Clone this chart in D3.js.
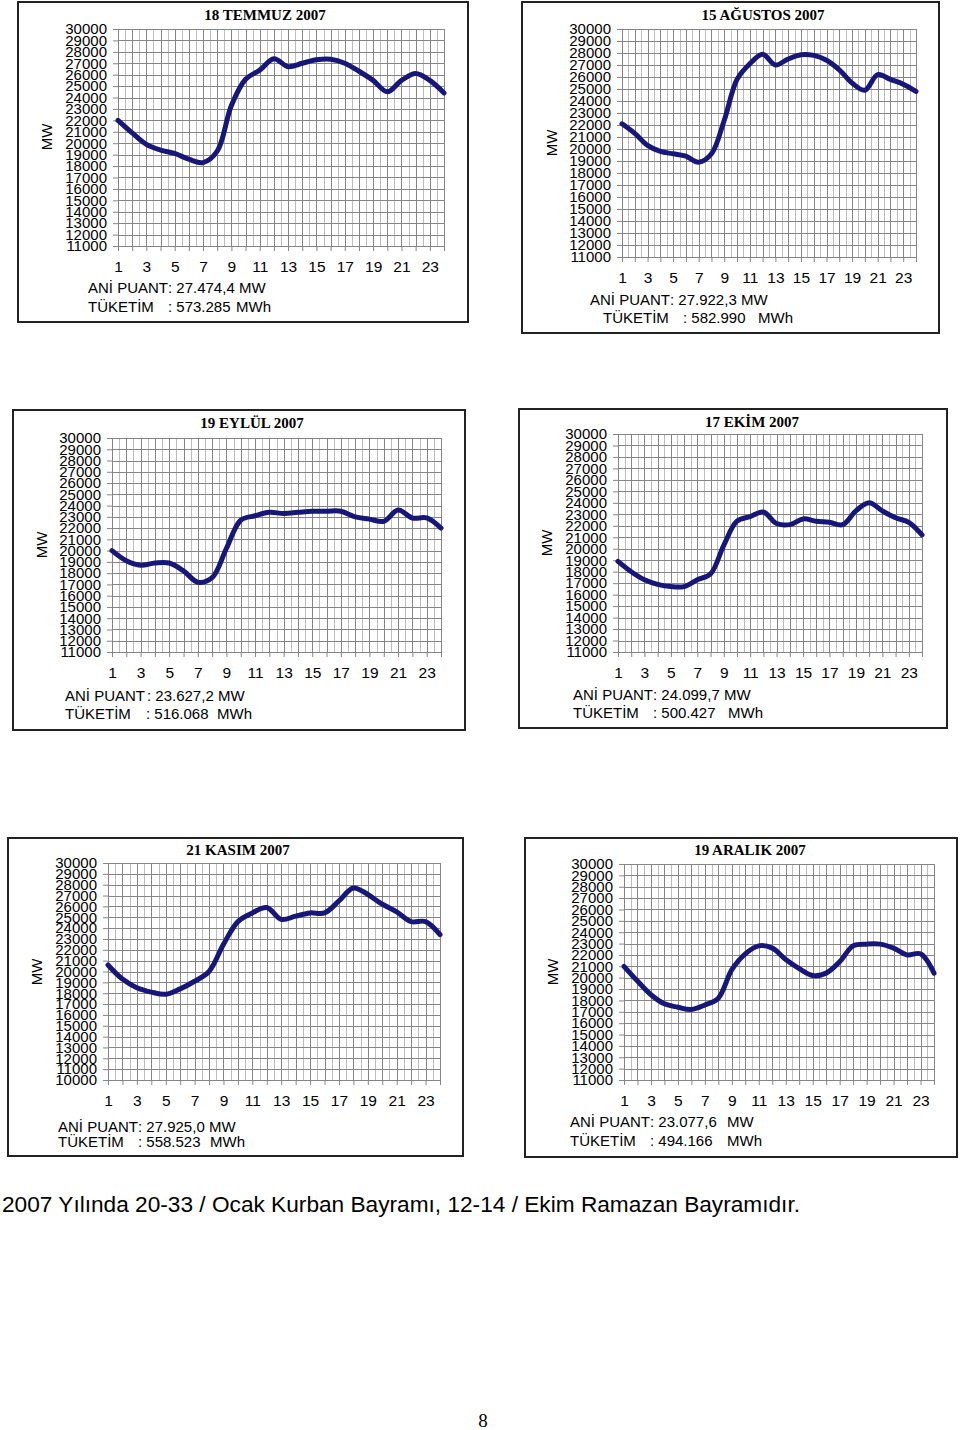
<!DOCTYPE html>
<html>
<head>
<meta charset="utf-8">
<script src="https://cdn.jsdelivr.net/npm/d3@7/dist/d3.min.js"></script>
<style>
  html, body { margin: 0; padding: 0; background: #fff; }
  svg { display: block; }
  text { font-family: "Liberation Sans", Arial, sans-serif; fill: #000; }
</style>
</head>
<body>
<svg id="page" width="960" height="1430"></svg>
<script>
// ---------- DATA ----------
const hours = [1,2,3,4,5,6,7,8,9,10,11,12,13,14,15,16,17,18,19,20,21,22,23,24];
const hourLabels = [1,3,5,7,9,11,13,15,17,19,21,23];

const titles = ["18 TEMMUZ 2007", "15 AĞUSTOS 2007", "19 EYLÜL 2007", "17 EKİM 2007", "21 KASIM 2007", "19 ARALIK 2007"];
const peakValues = ["27.474,4 MW", "27.922,3 MW", "23.627,2 MW", "24.099,7 MW", "27.925,0 MW", "23.077,6"];
const consumptionValues = ["573.285", "582.990", "516.068", "500.427", "558.523", "494.166"];
const yMins = [11000, 11000, 11000, 11000, 10000, 11000];
const yMax = 30000;

const temmuzLoad  = [22000,20900,19900,19400,19100,18600,18300,19300,23300,25600,26400,27400,26700,27000,27300,27350,27000,26300,25500,24500,25500,26100,25500,24400];
const agustosLoad = [22100,21300,20300,19800,19600,19400,18900,19600,22400,25800,27100,27900,27000,27500,27850,27800,27400,26600,25500,24900,26200,25800,25400,24800];
const eylulLoad   = [20000,19100,18700,18900,18900,18200,17200,17600,20200,22700,23100,23400,23300,23400,23500,23500,23500,23000,22800,22600,23600,22900,22900,22000];
const ekimLoad    = [18900,18000,17300,16900,16700,16700,17300,17800,20300,22400,22800,23200,22200,22100,22600,22400,22300,22100,23300,24000,23300,22700,22300,21200];
const kasimLoad   = [20600,19300,18500,18100,17900,18400,19100,20000,22500,24600,25400,25900,24800,25100,25400,25400,26500,27700,27100,26200,25500,24600,24600,23400];
const aralikLoad  = [21000,19700,18500,17700,17400,17200,17600,18200,20700,22100,22800,22600,21600,20800,20200,20400,21400,22800,22950,22950,22600,22000,22100,20400];

const loads = [temmuzLoad, agustosLoad, eylulLoad, ekimLoad, kasimLoad, aralikLoad];

const footnote = "2007 Yılında 20-33 / Ocak Kurban Bayramı, 12-14 / Ekim Ramazan Bayramıdır.";
const pageNumber = "8";

// ---------- LAYOUT ----------
const layouts = [
  {box:[18,2,468,322],   plot:[118,29,444,246],  title:[265,20],  mw:[47,137],  l1:293,  l2:312,  ani:88,  aniC:168, tuk:88,  tukC:168, unit:236},
  {box:[522,2,939,333],  plot:[622,29,916,257],  title:[763,20],  mw:[552,143], l1:305,  l2:323,  ani:590, aniC:670, tuk:603, tukC:683, unit:758},
  {box:[13,410,465,730], plot:[112,438,441,652], title:[252,428], mw:[42,545],  l1:701,  l2:719,  ani:65,  aniC:147, tuk:65,  tukC:146, unit:217},
  {box:[519,409,947,728],plot:[618,434,922,652], title:[752,427], mw:[547,543], l1:700,  l2:718,  ani:573, aniC:653, tuk:573, tukC:653, unit:728},
  {box:[8,838,463,1156], plot:[108,863,440,1080],title:[238,855], mw:[37,972],  l1:1132, l2:1147, ani:58,  aniC:138, tuk:58,  tukC:138, unit:210},
  {box:[525,838,957,1157],plot:[624,864,934,1080],title:[750,855],mw:[553,972], l1:1127, l2:1146, ani:570, aniC:650, tuk:570, tukC:650, unit:727, aniUnit:"MW"}
];

const svg = d3.select("#page");

layouts.forEach((L, i) => {
  const g = svg.append("g");
  const [bx0, by0, bx1, by1] = L.box;
  g.append("rect").attr("x", bx0).attr("y", by0).attr("width", bx1 - bx0).attr("height", by1 - by0)
    .attr("fill", "#fff").attr("stroke", "#222").attr("stroke-width", 2);

  const [pl, pt, pr, pb] = L.plot;
  const x = d3.scaleLinear().domain([1, 24]).range([pl, pr]);
  const y = d3.scaleLinear().domain([yMins[i], yMax]).range([pb, pt]);
  const yTicks = d3.range(yMins[i], yMax + 1, 1000);
  const halfSteps = d3.range(1, 24.001, 0.5);

  // vertical grid (hours + half hours)
  g.append("g").selectAll("line").data(halfSteps).join("line")
    .attr("x1", d => Math.round(x(d)) + 0.5).attr("x2", d => Math.round(x(d)) + 0.5)
    .attr("y1", pt).attr("y2", pb)
    .attr("stroke", d => Number.isInteger(d) ? "#858585" : "#bdbdbd").attr("stroke-width", 1);
  // horizontal grid
  g.append("g").selectAll("line").data(yTicks).join("line")
    .attr("x1", pl).attr("x2", pr)
    .attr("y1", d => Math.round(y(d)) + 0.5).attr("y2", d => Math.round(y(d)) + 0.5)
    .attr("stroke", "#858585").attr("stroke-width", 1);

  // axes
  const yAxis = g.append("g").attr("transform", `translate(${pl},0)`)
    .call(d3.axisLeft(y).tickValues(yTicks).tickSize(5).tickSizeOuter(0).tickPadding(6).tickFormat(d3.format("d")));
  yAxis.select(".domain").attr("stroke", "#858585");
  yAxis.selectAll(".tick line").attr("stroke", "#858585");
  yAxis.selectAll("text").style("font-size", "15px").style("font-family", "'Liberation Sans', Arial, sans-serif");

  const xAxis = g.append("g").attr("transform", `translate(0,${pb})`)
    .call(d3.axisBottom(x).tickValues(hours).tickSize(5).tickSizeOuter(0).tickPadding(10)
      .tickFormat(d => hourLabels.includes(d) ? d : ""));
  xAxis.select(".domain").attr("stroke", "#858585");
  xAxis.selectAll(".tick line").attr("stroke", "#858585");
  xAxis.selectAll("text").style("font-size", "15.5px").style("font-family", "'Liberation Sans', Arial, sans-serif");

  // line
  const line = d3.line().x((d, j) => x(hours[j])).y(d => y(d)).curve(d3.curveCatmullRom.alpha(0.5));
  g.append("path").datum(loads[i]).attr("d", line)
    .attr("fill", "none").attr("stroke", "#17177a").attr("stroke-width", 5)
    .attr("stroke-linejoin", "round").attr("stroke-linecap", "round");

  // title
  g.append("text").attr("x", L.title[0]).attr("y", L.title[1]).attr("text-anchor", "middle")
    .style("font-family", "'Liberation Serif', 'Times New Roman', serif").style("font-weight", "bold")
    .style("font-size", "15px").text(titles[i]);

  // MW label
  g.append("text").attr("transform", `translate(${L.mw[0] + 5},${L.mw[1]}) rotate(-90)`)
    .attr("text-anchor", "middle").style("font-size", "15px").text("MW");

  // info lines
  const t1 = g.append("text").attr("y", L.l1).style("font-size", "15px");
  t1.append("tspan").attr("x", L.ani).text("ANİ PUANT");
  t1.append("tspan").attr("x", L.aniC).text(": " + peakValues[i]);
  if (L.aniUnit) t1.append("tspan").attr("x", L.unit).text(L.aniUnit);
  const t2 = g.append("text").attr("y", L.l2).style("font-size", "15px");
  t2.append("tspan").attr("x", L.tuk).text("TÜKETİM");
  t2.append("tspan").attr("x", L.tukC).text(": " + consumptionValues[i]);
  t2.append("tspan").attr("x", L.unit).text("MWh");
});

// footnote
const fn = svg.append("text").attr("x", 2).attr("y", 1212).style("font-size", "21px").text(footnote);
const w = fn.node().getComputedTextLength();
if (w > 0) fn.style("font-size", (21 * 798 / w).toFixed(2) + "px");

svg.append("text").attr("x", 483).attr("y", 1427).attr("text-anchor", "middle")
  .style("font-family", "'Liberation Serif', 'Times New Roman', serif").style("font-size", "19px").text(pageNumber);
</script>
</body>
</html>
